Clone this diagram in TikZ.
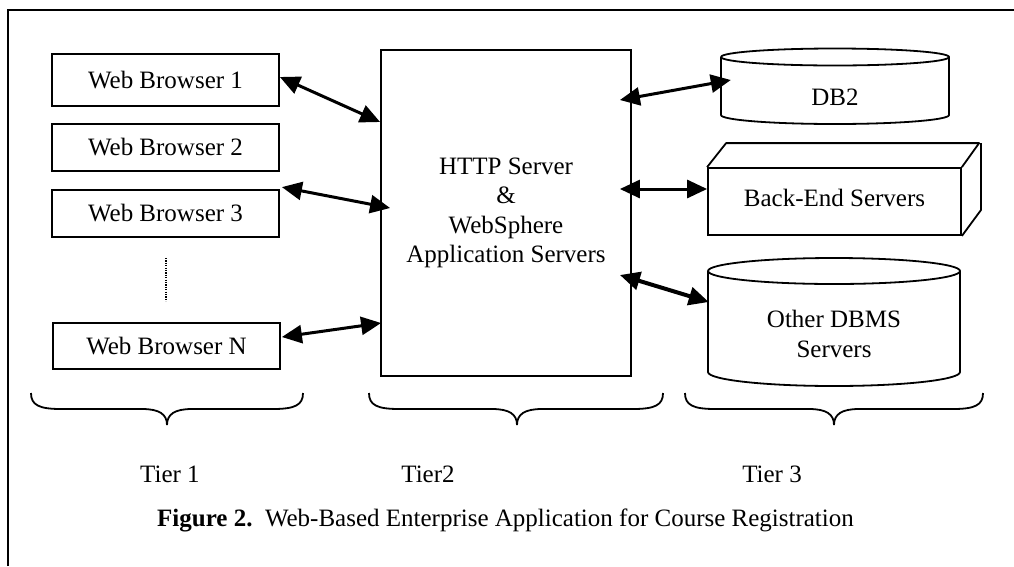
\documentclass[tikz,border=0pt]{standalone}
\usepackage{fontspec}
\setmainfont{Liberation Serif}
\usetikzlibrary{arrows.meta,calc}
\tikzset{
  box/.style={draw, line width=1.8pt, inner sep=0pt, align=center},
  plain/.style={inner sep=0pt, align=center},
  link/.style={line width=3pt, {Triangle[length=20pt,width=18pt]}-{Triangle[length=20pt,width=18pt]}},
  shape line/.style={line width=1.8pt, line join=round},
  bracepath/.style={line width=1.8pt},
}
\newcommand{\mybrace}[3]{%
  \draw[bracepath] (#1,393) .. controls (#1,405) and (#1+8,409) .. (#1+30,409)
    -- (#3-25,409) .. controls (#3-8,409) and (#3,414) .. (#3,425)
    .. controls (#3,414) and (#3+8,409) .. (#3+25,409)
    -- (#2-30,409) .. controls (#2-8,409) and (#2,405) .. (#2,393);}
\begin{document}
\begin{tikzpicture}[x=1pt,y=-1pt,font=\fontsize{25pt}{29.5pt}\selectfont]
\useasboundingbox (0,0) rectangle (1014,566);
% frame
\draw[line width=1.8pt] (8,566) -- (8,10) -- (1014,10);

% tier 1
\node[box, minimum width=227pt, minimum height=52pt] (wb1) at (165.5,80) {Web Browser 1};
\node[box, minimum width=227pt, minimum height=47pt] (wb2) at (165.5,147.5) {Web Browser 2};
\node[box, minimum width=227pt, minimum height=47pt] (wb3) at (165.5,213.5) {Web Browser 3};
\node[box, minimum width=227pt, minimum height=46pt] (wbn) at (166.5,346) {Web Browser N};
\draw[line width=1.2pt, dash pattern=on 1.2pt off 1.2pt] ($(wb3.south)+(0.5,20)$) -- ($(wbn.north)+(-0.5,-21)$);

% tier 2
\node[box, minimum width=250pt, minimum height=326pt] (srv) at (506,213)
  {HTTP Server\\ \&\\ WebSphere\\ Application Servers};

% tier 3: DB2 cylinder
\draw[shape line] (721,57) -- (721,115) arc[start angle=180, end angle=360, x radius=114pt, y radius=9pt] -- (949,57);
\draw[shape line] (835,57) ellipse [x radius=114pt, y radius=8.5pt];
\node[plain, minimum width=228pt, minimum height=40pt] (db2) at (835,97) {DB2};

% Back-End servers block
\node[box, minimum width=253pt, minimum height=67pt] (be) at (834.5,201.5) {\raisebox{8pt}{Back-End Servers}};
\draw[shape line] (be.north west) -- ++(19,-24) -- ++(253,0) -- (be.north east);
\draw[shape line] ($(be.north east)+(19,-24)$) -- ++(0,67) -- (be.south east);

% Other DBMS cylinder
\draw[shape line] (708,271) -- (708,372) arc[start angle=180, end angle=360, x radius=126pt, y radius=14pt] -- (960,271);
\draw[shape line] (834,271) ellipse [x radius=126pt, y radius=13pt];
\node[plain, minimum width=252pt, minimum height=60pt] (odb) at (834,334) {Other DBMS\\ Servers};

% connectors
\draw[link] ($(wb1.east)+(0,-3)$) -- ($(srv.west)+(0,-91)$);
\draw[link] ($(wb3.north east)+(2,-2)$) -- ($(srv.west)+(10,-5)$);
\draw[link] ($(wbn.east)+(1,-9)$) -- ($(srv.west)+(1,110)$);
\draw[link] ($(srv.east)+(-12,-113)$) -- ($(db2.west)+(10,-17)$);
\draw[link] ($(srv.east)+(-12,-24)$) -- ($(be.west)+(0,-12.5)$);
\draw[link, line width=4pt] ($(srv.east)+(-12,62)$) -- ($(odb.west)+(1,-32)$);

% braces
\mybrace{31}{303}{167}
\mybrace{369}{663}{517}
\mybrace{685}{983}{834}

% labels
\node[plain, anchor=base] (t1) at (170,482) {Tier 1};
\node[plain, anchor=base] (t2) at (428,482) {Tier2};
\node[plain, anchor=base] (t3) at (772,482) {Tier 3};
\node[plain, anchor=base] (cap) at (505.5,526) {\textbf{Figure 2.}\ \ Web-Based Enterprise Application for Course Registration};
\end{tikzpicture}
\end{document}
